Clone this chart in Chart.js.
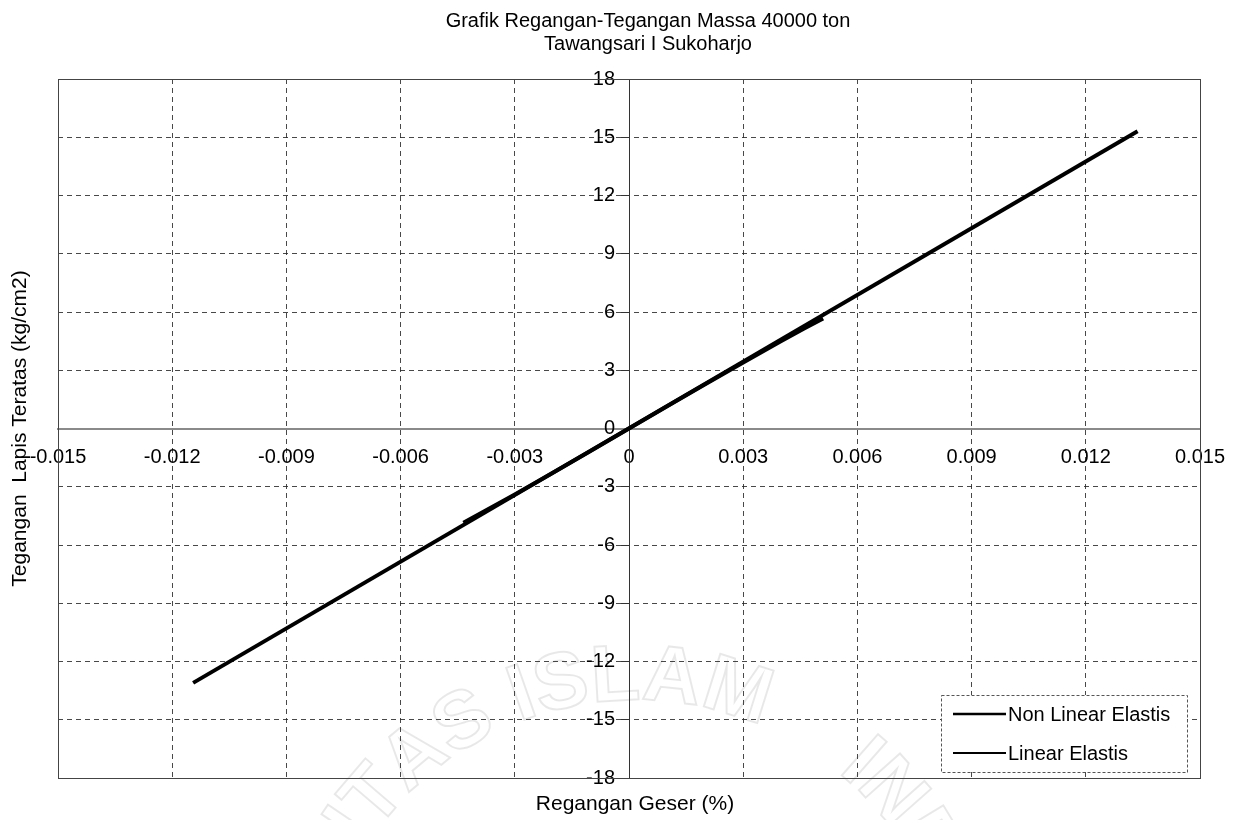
<!DOCTYPE html>
<html>
<head>
<meta charset="utf-8">
<script src="https://cdn.jsdelivr.net/npm/chart.js@4.4.1/dist/chart.umd.min.js"></script>
<style>
  html, body { margin: 0; padding: 0; background: #fff; }
  #wrap { position: relative; width: 1246px; height: 820px; }
</style>
</head>
<body>
<div id="wrap"><canvas id="c"></canvas></div>
<script>
// ---- chart text ----
const titleLines = ['Grafik Regangan-Tegangan Massa 40000 ton', 'Tawangsari I Sukoharjo'];
const xAxisTitle = 'Regangan Geser (%)';
const yAxisTitle = 'Tegangan  Lapis Teratas (kg/cm2)';
const seriesNames = ['Non Linear Elastis', 'Linear Elastis'];
const stampWords = ['UNIVERSITAS ', 'ISLAM', '    INDONESIA'];

// ---- series values ----
const nonLinearStrain = [-0.00435, -0.0038, -0.003, -0.002, -0.001, 0, 0.001, 0.002, 0.003, 0.004, 0.0046, 0.0051];
const nonLinearStress = [-4.85, -4.26, -3.40, -2.28, -1.15, 0, 1.15, 2.28, 3.40, 4.50, 5.15, 5.67];
const linearStrain = [-0.01145, 0.01336];
const linearStress = [-13.1, 15.31];

// ---- tick labels ----
const xTicks = [-0.015, -0.012, -0.009, -0.006, -0.003, 0, 0.003, 0.006, 0.009, 0.012, 0.015];
const yTicks = [-18, -15, -12, -9, -6, -3, 0, 3, 6, 9, 12, 15, 18];

const FONT = "'Liberation Sans', Arial, sans-serif";
Chart.defaults.font.family = FONT;
Chart.defaults.color = '#000';

const toPoints = (xs, ys) => xs.map((x, i) => ({ x, y: ys[i] }));

// lays a word out letter by letter along a circle, returns the end angle
function arcWord(ctx, text, cx, cy, r, startAngle) {
  let a = startAngle;
  for (const ch of text) {
    const w = ctx.measureText(ch).width / r;
    const ang = a + w / 2;
    ctx.save();
    ctx.translate(cx + r * Math.cos(ang), cy + r * Math.sin(ang));
    ctx.rotate(ang + Math.PI / 2);
    if (ch.trim()) ctx.strokeText(ch, 0, 0);
    ctx.restore();
    a += w;
  }
  return a;
}

const decor = {
  id: 'decor',
  beforeDraw(chart) {
    const ctx = chart.ctx;
    ctx.save();
    ctx.fillStyle = '#fff';
    ctx.fillRect(0, 0, chart.width, chart.height);
    // faint stamp lettering behind the plot
    ctx.font = 'bold 80px ' + FONT;
    ctx.textAlign = 'center';
    ctx.textBaseline = 'alphabetic';
    ctx.strokeStyle = 'rgba(0,0,0,0.09)';
    ctx.lineWidth = 2;
    const cx = 635, cy = 1020, r = 320;
    const wLeft = ctx.measureText(stampWords[0]).width;
    const wMid = ctx.measureText(stampWords[1]).width;
    const start = -Math.PI / 2 - (wLeft + wMid / 2) / r;
    let a = arcWord(ctx, stampWords[0], cx, cy, r, start);
    a = arcWord(ctx, stampWords[1], cx, cy, r, a);
    arcWord(ctx, stampWords[2], cx, cy, r, a);
    ctx.restore();
  },
  beforeDatasetsDraw(chart) {
    const { ctx, chartArea: ca } = chart;
    ctx.save();
    ctx.strokeStyle = '#444';
    ctx.lineWidth = 1;
    ctx.strokeRect(Math.round(ca.left) + 0.5, Math.round(ca.top) + 0.5,
                   Math.round(ca.right - ca.left), Math.round(ca.bottom - ca.top));
    ctx.restore();
  },
  afterDraw(chart) {
    const { ctx, chartArea: ca } = chart;
    ctx.save();
    ctx.fillStyle = '#000';
    // title
    ctx.font = '20px ' + FONT;
    ctx.textAlign = 'center';
    ctx.textBaseline = 'middle';
    ctx.fillText(titleLines[0], 648, 21);
    ctx.fillText(titleLines[1], 648, 44);
    // axis titles
    ctx.font = '21px ' + FONT;
    ctx.fillText(xAxisTitle, 635, 804);
    ctx.save();
    ctx.translate(20, (ca.top + ca.bottom) / 2);
    ctx.rotate(-Math.PI / 2);
    ctx.fillText(yAxisTitle, 0, 0);
    ctx.restore();
    // legend box
    const lx = 941, ly = 695, lw = 246, lh = 77;
    ctx.fillStyle = '#fff';
    ctx.fillRect(lx, ly, lw, lh);
    ctx.strokeStyle = '#555';
    ctx.lineWidth = 1;
    ctx.setLineDash([3, 2]);
    ctx.strokeRect(lx + 0.5, ly + 0.5, lw, lh);
    ctx.setLineDash([]);
    const rows = [714, 753];
    const widths = [2.5, 2];
    ctx.font = '20px ' + FONT;
    ctx.textAlign = 'left';
    chart.data.datasets.forEach((ds, i) => {
      ctx.strokeStyle = ds.borderColor;
      ctx.lineWidth = widths[i];
      ctx.beginPath();
      ctx.moveTo(953, rows[i]);
      ctx.lineTo(1006, rows[i]);
      ctx.stroke();
      ctx.fillStyle = '#000';
      ctx.fillText(ds.label, 1008, rows[i] + 1);
    });
    ctx.restore();
  }
};

const gridDash = [5, 4];

new Chart(document.getElementById('c'), {
  type: 'scatter',
  data: {
    datasets: [
      {
        label: seriesNames[0],
        data: toPoints(nonLinearStrain, nonLinearStress),
        showLine: true, borderColor: '#000', borderWidth: 4,
        pointRadius: 0, tension: 0, order: 1
      },
      {
        label: seriesNames[1],
        data: toPoints(linearStrain, linearStress),
        showLine: true, borderColor: '#000', borderWidth: 4,
        pointRadius: 0, tension: 0, order: 2
      }
    ]
  },
  options: {
    responsive: true,
    maintainAspectRatio: false,
    animation: false,
    layout: { padding: { left: 58, right: 46, top: 79, bottom: 42 } },
    plugins: { legend: { display: false }, title: { display: false }, tooltip: { enabled: false } },
    scales: {
      x: {
        type: 'linear',
        position: 'center',
        min: -0.015, max: 0.015,
        afterFit: s => { s.height = 0; },
        afterBuildTicks: s => { s.ticks = xTicks.map(v => ({ value: v })); },
        ticks: {
          autoSkip: false, maxRotation: 0, padding: 17,
          font: { size: 20 },
          callback: v => (Math.abs(v) < 1e-12 ? '0' : Number(v).toFixed(3))
        },
        grid: { color: 'rgba(40,40,40,0.85)', lineWidth: 1, drawTicks: false },
        border: { display: true, color: '#8a8a8a', width: 2, dash: gridDash }
      },
      y: {
        type: 'linear',
        position: 'center',
        min: -18, max: 18,
        afterFit: s => { s.width = 0; },
        afterBuildTicks: s => { s.ticks = yTicks.map(v => ({ value: v })); },
        ticks: { autoSkip: false, padding: 6, font: { size: 20 } },
        grid: { color: 'rgba(40,40,40,0.85)', lineWidth: 1, tickLength: 8, tickColor: '#333' },
        border: { display: true, color: '#333', width: 1, dash: gridDash }
      }
    }
  },
  plugins: [decor]
});
</script>
</body>
</html>
